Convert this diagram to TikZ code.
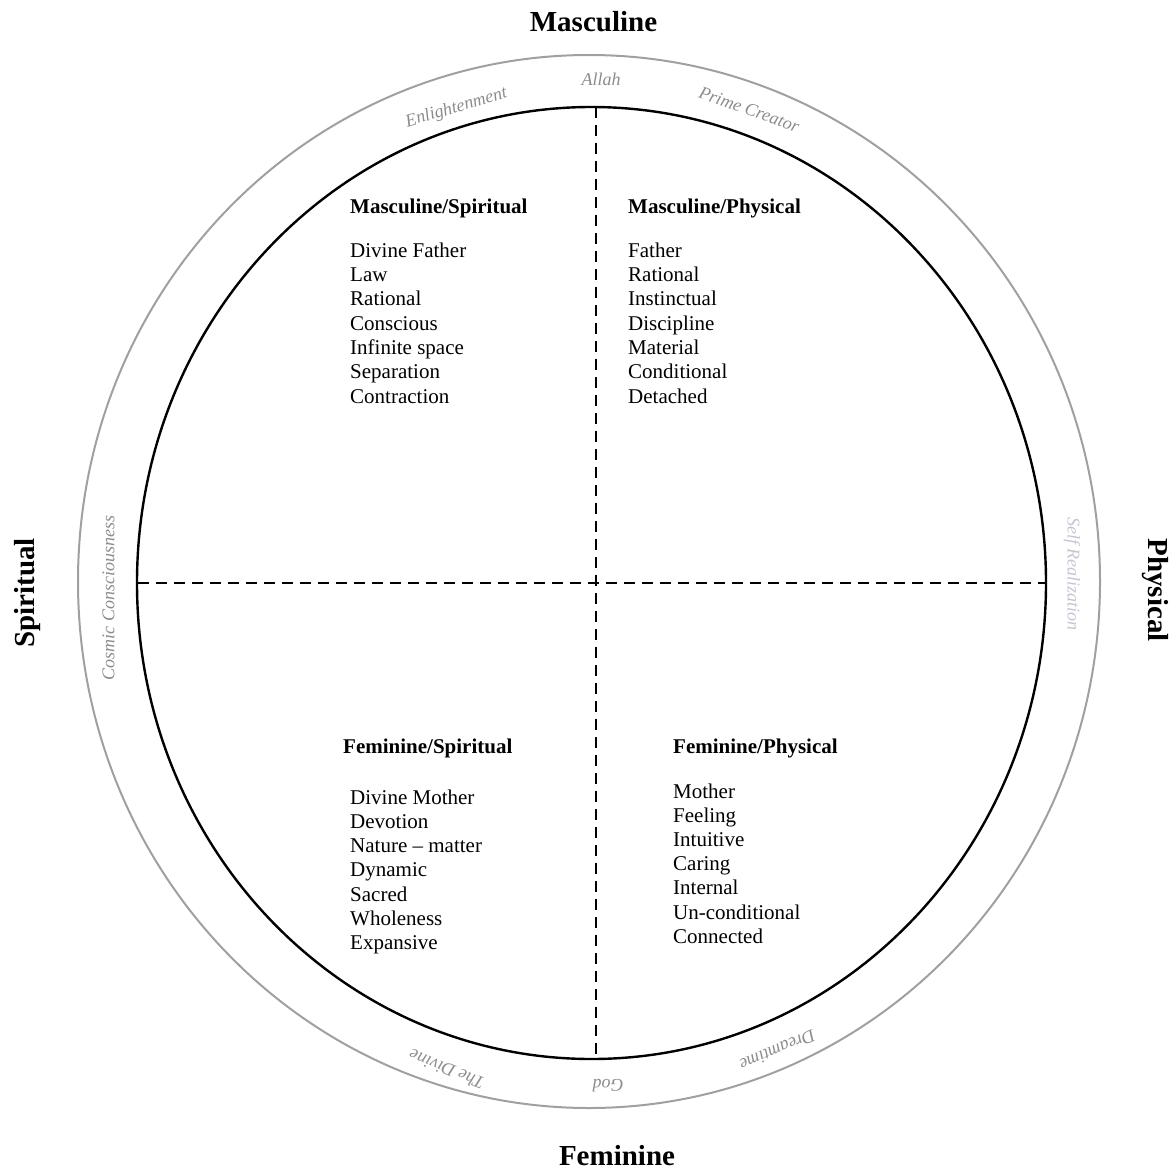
\documentclass[tikz,border=0pt]{standalone}
\usepackage{fontspec}
\setmainfont{Liberation Serif}
\definecolor{ringline}{RGB}{160,160,160}
\definecolor{ringtext}{RGB}{140,140,140}
\definecolor{ringpale}{RGB}{195,198,208}
\begin{document}
\begin{tikzpicture}[x=1pt,y=-1pt,
  rim/.style={draw=ringline, line width=2pt},
  disc/.style={draw=black, line width=2.4pt},
  axis/.style={draw=black, line width=1.6pt, dash pattern=on 11pt off 7pt},
  pole/.style={inner sep=0pt, font=\bfseries\fontsize{29}{32}\selectfont},
  head/.style={inner sep=0pt, anchor=base west, font=\bfseries\fontsize{21}{24}\selectfont},
  item/.style={inner sep=0pt, anchor=base west, font=\fontsize{21}{24}\selectfont},
  ring/.style={inner sep=0pt, anchor=mid, text=ringtext, font=\itshape\fontsize{18}{20}\selectfont},
]
\useasboundingbox (0,0) rectangle (1174,1169);

% outer ring and inner disc
\draw[rim] (589,581.5) ellipse [x radius=511pt, y radius=526.5pt];
\draw[disc] (591.5,583) ellipse [x radius=454.5pt, y radius=476pt];

% quadrant axes
\coordinate (vt) at (596,107);
\coordinate (vb) at (596,1059);
\coordinate (hl) at (138,583);
\coordinate (hr) at (1046,583);
\draw[axis] (vt) -- (vb);
\draw[axis] (hl) -- (hr);

% pole labels
\node[pole, anchor=base] (pN) at (593.5,32) {Masculine};
\node[pole, anchor=base] (pS) at (617,1165) {Feminine};
\node[pole, anchor=base, rotate=90] (pW) at (34,593) {Spiritual};
\node[pole, anchor=base, rotate=-90] (pE) at (1148,590) {Physical};

% names around the ring
\node[ring] (rN) at (601,83) {Allah};
\node[ring, rotate=16.4] (rNW) at (457,110) {Enlightenment};
\node[ring, rotate=-19.5] (rNE) at (748,113) {Prime Creator};
\node[ring, rotate=90] (rW) at (112,598) {Cosmic Consciousness};
\node[ring, rotate=-90, text=ringpale] (rE) at (1070,574) {Self Realization};
\node[ring, rotate=180] (rS) at (608,1082) {God};
\node[ring, rotate=158] (rSW) at (448,1066) {The Divine};
\node[ring, rotate=-157] (rSE) at (776,1047) {Dreamtime};

% quadrant headings
\node[head] (hMS) at (350,213) {Masculine/Spiritual};
\node[head] (hMP) at (628,213) {Masculine/Physical};
\node[head] (hFS) at (343,753) {Feminine/Spiritual};
\node[head] (hFP) at (673,753) {Feminine/Physical};

% quadrant lists
\foreach \t [count=\i] in {Divine Father, Law, Rational, Conscious, Infinite space, Separation, Contraction}
  \node[item] (ms\i) at (350,{257.3+24.3*(\i-1)}) {\t};
\foreach \t [count=\i] in {Father, Rational, Instinctual, Discipline, Material, Conditional, Detached}
  \node[item] (mp\i) at (628,{257.3+24.3*(\i-1)}) {\t};
\foreach \t [count=\i] in {Divine Mother, Devotion, Nature – matter, Dynamic, Sacred, Wholeness, Expansive}
  \node[item] (fs\i) at (350,{804+24.3*(\i-1)}) {\t};
\foreach \t [count=\i] in {Mother, Feeling, Intuitive, Caring, Internal, Un-conditional, Connected}
  \node[item] (fp\i) at (673,{798+24.2*(\i-1)}) {\t};
\end{tikzpicture}
\end{document}
